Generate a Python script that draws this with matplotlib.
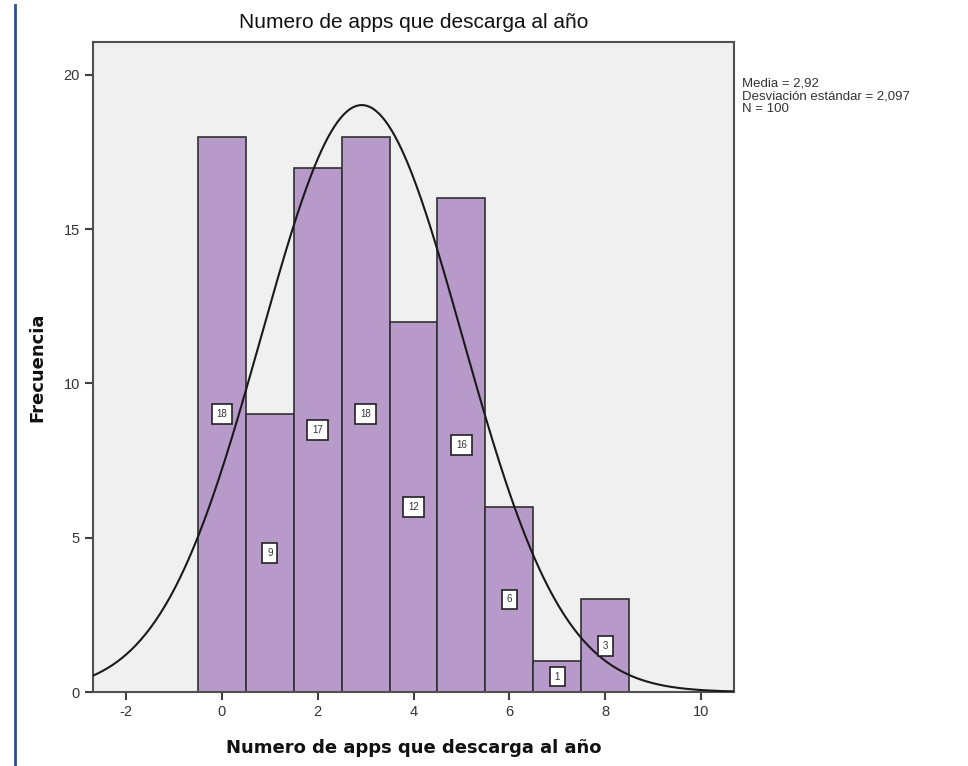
import matplotlib.pyplot as plt
import numpy as np

# Data
valores = [0, 1, 2, 3, 4, 5, 6, 7, 8]
frecuencias = [18, 9, 17, 18, 12, 16, 6, 1, 3]
media = 2.92
desviacion = 2.097
n_total = 100

plt.rcParams['axes.unicode_minus'] = False

fig = plt.figure(figsize=(9.68, 7.66), dpi=100)
ax = fig.add_axes([0.0961, 0.0966, 0.6622, 0.8486])
ax.set_facecolor('#f0f0f0')

# Histogram bars
ax.bar(valores, frecuencias, width=1.0, color='#b89aca',
       edgecolor='#303030', linewidth=1.2, zorder=2)

# Count labels at half height
for v, f in zip(valores, frecuencias):
    ax.text(v, f / 2, str(f), ha='center', va='center', fontsize=7,
            color='#333333', family='Liberation Sans', zorder=4,
            bbox=dict(boxstyle='square,pad=0.5', fc='white', ec='#222222', lw=1.2))

# Normal curve
xs = np.linspace(-2.69, 10.69, 400)
ys = n_total / (desviacion * np.sqrt(2 * np.pi)) * np.exp(-0.5 * ((xs - media) / desviacion) ** 2)
ax.plot(xs, ys, color='#1a1a1a', linewidth=1.5, zorder=3)

ax.set_xlim(-2.69, 10.69)
ax.set_ylim(0, 21.07)
ax.set_xticks([-2, 0, 2, 4, 6, 8, 10])
ax.set_yticks([0, 5, 10, 15, 20])
ax.tick_params(direction='out', length=6, width=1.5, color='#404040',
               labelsize=10.5, labelcolor='#333333')
for lbl in ax.get_xticklabels() + ax.get_yticklabels():
    lbl.set_family('Liberation Sans')
for sp in ax.spines.values():
    sp.set_color('#505050')
    sp.set_linewidth(1.5)

ax.set_title('Numero de apps que descarga al año', fontsize=15,
             family='Liberation Sans', color='#111111', pad=10)
ax.set_xlabel('Numero de apps que descarga al año', fontsize=13,
              fontweight='bold', color='#111111', labelpad=14)
ax.set_ylabel('Frecuencia', fontsize=13, fontweight='bold',
              color='#111111', labelpad=12)

# Summary statistics on the right
fig.text(0.767, 0.899, 'Media = 2,92\nDesviación estándar = 2,097\nN = 100',
         ha='left', va='top', fontsize=9.5, family='Liberation Sans',
         color='#333333', linespacing=1.1)

# Blue vertical line on the left margin
fig.add_artist(plt.Line2D([0.0150, 0.0150], [0.0, 0.993], color='#2e4e8e',
                          linewidth=2.0, transform=fig.transFigure))

plt.savefig('out.png', dpi=100)
